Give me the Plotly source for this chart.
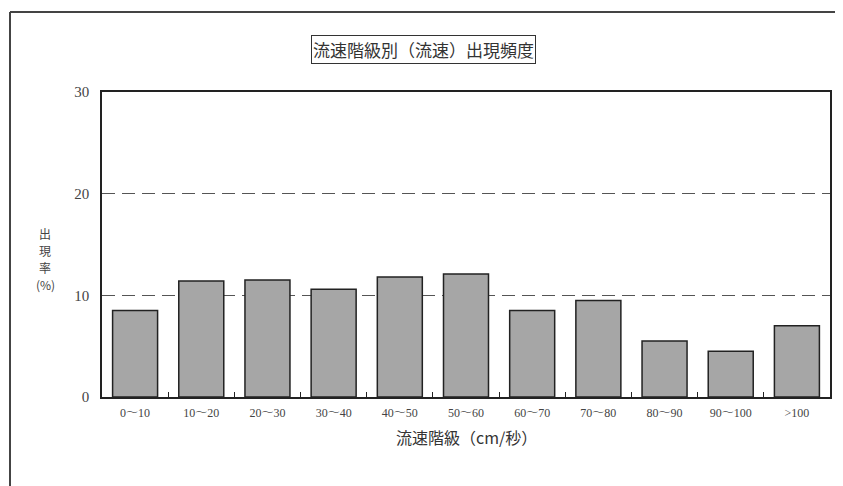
import plotly.graph_objects as go

# 流速階級別の出現率 (%)
categories = ["0～10", "10～20", "20～30", "30～40", "40～50", "50～60",
              "60～70", "70～80", "80～90", "90～100", ">100"]
rates = [8.5, 11.4, 11.5, 10.6, 11.8, 12.1, 8.5, 9.5, 5.5, 4.5, 7.0]

serif = "Liberation Serif, Noto Serif CJK JP, Noto Sans CJK JP"
cjk = "Noto Sans CJK JP"

# page body adds an 8px offset, so figure coords = screen - 8
W, H = 835, 478
L, R, T, B = 94, 13, 84, 89
pw, ph = W - L - R, H - T - B


def px(x):
    return (x - 8 - L) / pw


def py(y):
    return (H - B - (y - 8)) / ph


fig = go.Figure()
fig.add_trace(go.Bar(
    x=categories, y=rates,
    marker=dict(color="#a6a6a6", line=dict(color="#222", width=1.5)),
))

fig.update_layout(
    width=W, height=H,
    margin=dict(l=L, r=R, t=T, b=B),
    paper_bgcolor="white", plot_bgcolor="white",
    bargap=0.32, showlegend=False,
    font=dict(family=serif, color="#444"),
)

fig.update_xaxes(
    type="category",
    showline=True, linecolor="#222", linewidth=1.5, mirror=True,
    ticks="inside", tickson="boundaries", ticklen=5, tickcolor="#222",
    tickfont=dict(size=12, family=serif, color="#444"),
    ticklabelstandoff=4,
    showgrid=False,
)
fig.update_yaxes(
    range=[0, 30], dtick=10,
    showline=True, linecolor="#222", linewidth=1.5, mirror=True,
    showgrid=True, gridcolor="#555", gridwidth=1.2, griddash="13px,7px",
    zeroline=False, ticks="",
    tickfont=dict(size=15, family=serif, color="#444"),
    ticklabelstandoff=8,
)

# 図タイトル (枠付き)
fig.add_annotation(
    text="流速階級別（流速）出現頻度", xref="paper", yref="paper",
    x=px(423), y=py(49.5), xanchor="center", yanchor="middle",
    showarrow=False,
    font=dict(size=17, family=cjk, color="#333"),
    bordercolor="#333", borderwidth=1, borderpad=1, bgcolor="white",
)
# 軸タイトル (縦書き)
for i, ch in enumerate(["出", "現", "率", "(%)"]):
    fig.add_annotation(
        text=ch, xref="paper", yref="paper",
        x=px(45), y=py(233 + 17 * i), xanchor="center", yanchor="middle",
        showarrow=False,
        font=dict(size=12, family=cjk, color="#444"),
        borderpad=0,
    )
fig.add_annotation(
    text="流速階級（cm/秒）", xref="paper", yref="paper",
    x=px(466), y=py(437), xanchor="center", yanchor="middle",
    showarrow=False,
    font=dict(size=16, family=cjk, color="#333"),
)

# 外枠 (上と左)
fig.add_shape(type="line", xref="paper", yref="paper",
              x0=px(10), x1=px(843), y0=py(12), y1=py(12),
              line=dict(color="#444", width=2))
fig.add_shape(type="line", xref="paper", yref="paper",
              x0=px(10), x1=px(10), y0=py(12), y1=py(486),
              line=dict(color="#444", width=2))

fig.write_html("out.html")
